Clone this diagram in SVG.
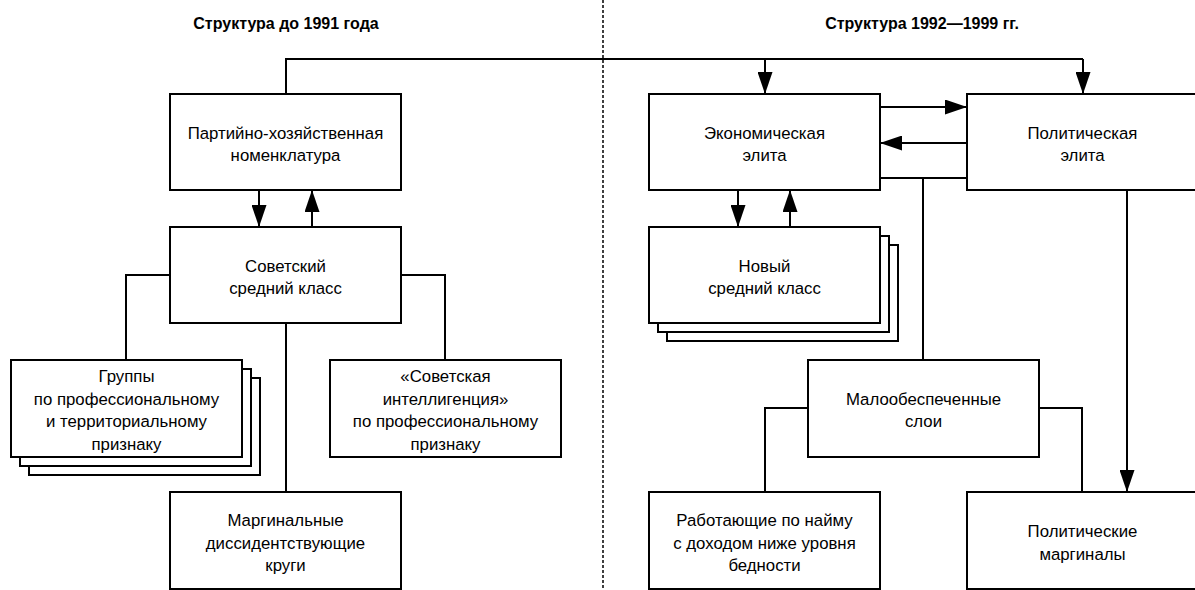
<svg xmlns="http://www.w3.org/2000/svg" width="1195" height="590" viewBox="0 0 1195 590">
<style>
.box{fill:#fff;stroke:#000;stroke-width:2}
.ln{fill:none;stroke:#000;stroke-width:2}
.lbl{font-family:"Liberation Sans",Arial,sans-serif;font-size:16.8px;fill:#000;text-anchor:middle}
.ttl{font-family:"Liberation Sans",Arial,sans-serif;font-size:16px;font-weight:bold;fill:#000;text-anchor:middle}
</style>
<defs>
<marker id="ah" markerUnits="userSpaceOnUse" markerWidth="22" markerHeight="15" refX="22" refY="7.5" orient="auto">
<path d="M0,0 L22,7.5 L0,15 Z" fill="#000"/>
</marker>
</defs>
<rect width="1195" height="590" fill="#fff"/>
<text class="ttl" x="286" y="29">Структура до 1991 года</text>
<text class="ttl" x="922" y="29">Структура 1992—1999 гг.</text>
<g id="connectors">
<path d="M603,0 V590" fill="none" stroke="#000" stroke-width="1.5" stroke-dasharray="3 2"/>
<path class="ln" d="M286,94 V59 H1083"/>
<path class="ln" d="M765,59 V94" marker-end="url(#ah)"/>
<path class="ln" d="M1083,59 V94" marker-end="url(#ah)"/>
<path class="ln" d="M259,190 V227" marker-end="url(#ah)"/>
<path class="ln" d="M312,227 V190" marker-end="url(#ah)"/>
<path class="ln" d="M170,275 H126 V360"/>
<path class="ln" d="M401,275 H445 V360"/>
<path class="ln" d="M286,323 V492"/>
<path class="ln" d="M880,107 H967" marker-end="url(#ah)"/>
<path class="ln" d="M967,143 H880" marker-end="url(#ah)"/>
<path class="ln" d="M880,178 H967"/>
<path class="ln" d="M923,178 V360"/>
<path class="ln" d="M738,190 V227" marker-end="url(#ah)"/>
<path class="ln" d="M790,227 V190" marker-end="url(#ah)"/>
<path class="ln" d="M1127,190 V492" marker-end="url(#ah)"/>
<path class="ln" d="M808,408 H765 V492"/>
<path class="ln" d="M1039,408 H1082 V492"/>
</g>
<g id="n-nomenklatura">
<rect class="box" x="170" y="94" width="231" height="96"/>
<text class="lbl" x="285.5" y="139">Партийно-хозяйственная</text>
<text class="lbl" x="285.5" y="161">номенклатура</text>
</g>
<g id="n-sov-middle">
<rect class="box" x="170" y="227" width="231" height="96"/>
<text class="lbl" x="285.5" y="272">Советский</text>
<text class="lbl" x="285.5" y="294">средний класс</text>
</g>
<g id="n-groups">
<rect class="box" x="29" y="378" width="231" height="97"/>
<rect class="box" x="20" y="369" width="231" height="97"/>
<rect class="box" x="11" y="360" width="231" height="97"/>
<text class="lbl" x="126.5" y="382">Группы</text>
<text class="lbl" x="126.5" y="405">по профессиональному</text>
<text class="lbl" x="126.5" y="427">и территориальному</text>
<text class="lbl" x="126.5" y="450">признаку</text>
</g>
<g id="n-intel">
<rect class="box" x="330" y="360" width="231" height="97"/>
<text class="lbl" x="445.5" y="382">«Советская</text>
<text class="lbl" x="445.5" y="405">интеллигенция»</text>
<text class="lbl" x="445.5" y="427">по профессиональному</text>
<text class="lbl" x="445.5" y="450">признаку</text>
</g>
<g id="n-dissid">
<rect class="box" x="170" y="492" width="231" height="97"/>
<text class="lbl" x="285.5" y="526">Маргинальные</text>
<text class="lbl" x="285.5" y="549">диссидентствующие</text>
<text class="lbl" x="285.5" y="571">круги</text>
</g>
<g id="n-econ">
<rect class="box" x="649" y="94" width="231" height="96"/>
<text class="lbl" x="764.5" y="139">Экономическая</text>
<text class="lbl" x="764.5" y="161">элита</text>
</g>
<g id="n-polit">
<rect class="box" x="967" y="94" width="231" height="96"/>
<text class="lbl" x="1082.5" y="139">Политическая</text>
<text class="lbl" x="1082.5" y="161">элита</text>
</g>
<g id="n-new-middle">
<rect class="box" x="667" y="245" width="231" height="96"/>
<rect class="box" x="658" y="236" width="231" height="96"/>
<rect class="box" x="649" y="227" width="231" height="96"/>
<text class="lbl" x="764.5" y="272">Новый</text>
<text class="lbl" x="764.5" y="294">средний класс</text>
</g>
<g id="n-poor">
<rect class="box" x="808" y="360" width="231" height="97"/>
<text class="lbl" x="923.5" y="405">Малообеспеченные</text>
<text class="lbl" x="923.5" y="427">слои</text>
</g>
<g id="n-workers">
<rect class="box" x="649" y="492" width="231" height="97"/>
<text class="lbl" x="764.5" y="526">Работающие по найму</text>
<text class="lbl" x="764.5" y="549">с доходом ниже уровня</text>
<text class="lbl" x="764.5" y="571">бедности</text>
</g>
<g id="n-polmarg">
<rect class="box" x="967" y="492" width="231" height="97"/>
<text class="lbl" x="1082.5" y="537">Политические</text>
<text class="lbl" x="1082.5" y="560">маргиналы</text>
</g>
</svg>
